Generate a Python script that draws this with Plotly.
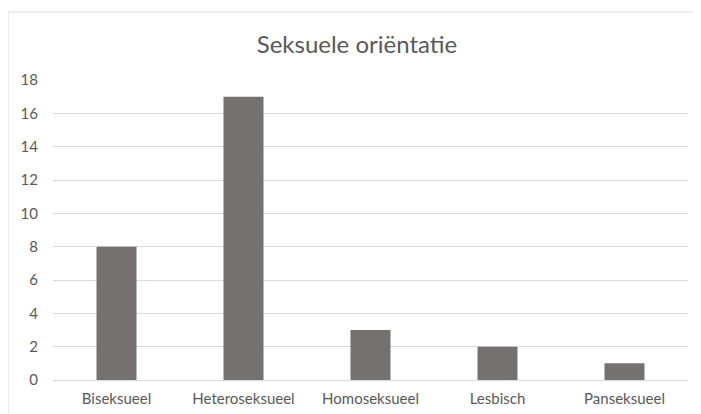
import plotly.graph_objects as go

categorieen = ["Biseksueel", "Heteroseksueel", "Homoseksueel", "Lesbisch", "Panseksueel"]
aantallen = [8, 17, 3, 2, 1]
y_ticks = [0, 2, 4, 6, 8, 10, 12, 14, 16, 18]

fig = go.Figure()

fig.add_trace(
    go.Bar(
        x=categorieen,
        y=aantallen,
        marker=dict(color="#767171", line=dict(width=0)),
        width=0.315,
        hovertemplate="%{x}: %{y}<extra></extra>",
    )
)

# de pagina heeft 8px body-marge, dus figuur iets kleiner dan het venster
fig.update_layout(
    width=693,
    height=406,
    margin=dict(l=45, r=13, t=72, b=34),
    paper_bgcolor="white",
    plot_bgcolor="white",
    showlegend=False,
    font=dict(family="Lato, 'Open Sans', sans-serif", color="#595959", size=15),
    title=dict(
        text="Seksuele oriëntatie",
        x=0.5036,
        xanchor="center",
        y=0.909,
        yanchor="middle",
        font=dict(size=24, color="#595959"),
    ),
    xaxis=dict(
        showgrid=False,
        showline=True,
        linecolor="#d9d9d9",
        linewidth=1,
        ticks="",
        ticklabelstandoff=5,
        automargin=False,
    ),
    yaxis=dict(
        range=[0, 18],
        tickvals=y_ticks,
        showgrid=True,
        gridcolor="#d9d9d9",
        gridwidth=1,
        zeroline=False,
        showline=False,
        ticks="",
        ticklabelstandoff=14,
        automargin=False,
    ),
)

# Rand om het grafiekgebied
fig.add_shape(
    type="rect",
    xref="paper",
    yref="paper",
    x0=-0.0709,
    x1=1.1,
    y0=-0.3,
    y1=1.2267,
    line=dict(color="#d9d9d9", width=1),
    fillcolor="rgba(0,0,0,0)",
    layer="below",
)

fig.write_html("out.html")
